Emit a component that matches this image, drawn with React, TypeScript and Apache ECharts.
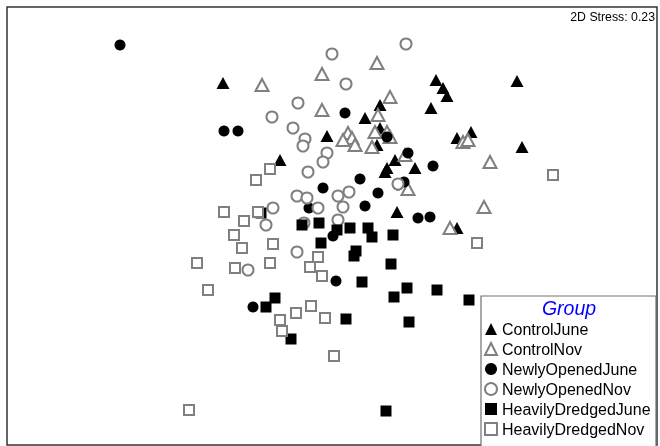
import React, { useEffect, useRef } from "react";
import * as echarts from "echarts";

// NMDS ordination coordinates (plot units; NMDS2 grows downward)
const controlJune: [number, number][] = [
  [223, 83], [436, 80], [443, 88], [447, 96], [517, 81], [431, 108], [380, 105],
  [365, 118], [327, 136], [280, 160], [457, 138], [471, 132], [522, 147], [377, 145],
  [380, 128], [387, 168], [395, 160], [415, 168], [385, 172], [397, 212], [457, 228],
];
const controlNov: [number, number][] = [
  [262, 85], [322, 74], [377, 63], [390, 97], [322, 110], [378, 115], [348, 133],
  [352, 138], [355, 145], [343, 140], [375, 132], [387, 132], [390, 137], [372, 147],
  [405, 155], [463, 142], [468, 140], [490, 162], [408, 189], [484, 207], [450, 228],
];
const newlyOpenedJune: [number, number][] = [
  [120, 45], [224, 131], [238, 131], [345, 113], [387, 137], [408, 153], [433, 166],
  [360, 179], [378, 193], [323, 188], [398, 185], [404, 182], [365, 206], [418, 218],
  [430, 217], [309, 208], [333, 236], [336, 281], [253, 307],
];
const newlyOpenedNov: [number, number][] = [
  [406, 44], [332, 54], [346, 84], [298, 103], [272, 117], [293, 128], [305, 139],
  [303, 146], [327, 153], [323, 162], [308, 172], [297, 196], [307, 198], [318, 208],
  [273, 208], [266, 225], [304, 223], [338, 196], [349, 192], [343, 207], [338, 220],
  [297, 252], [248, 270], [398, 184],
];
const heavilyDredgedJune: [number, number][] = [
  [261, 213], [302, 225], [319, 223], [321, 243], [337, 230], [350, 228], [368, 228],
  [372, 237], [393, 235], [356, 251], [354, 256], [391, 264], [362, 282], [407, 288],
  [394, 297], [437, 290], [469, 300], [275, 298], [266, 307], [346, 319], [409, 322],
  [291, 339], [386, 411],
];
const heavilyDredgedNov: [number, number][] = [
  [256, 180], [270, 169], [224, 212], [244, 221], [258, 212], [234, 235], [242, 248],
  [273, 244], [197, 263], [235, 268], [270, 263], [208, 290], [318, 257], [310, 267],
  [322, 276], [280, 320], [282, 331], [296, 313], [311, 306], [325, 318], [334, 356],
  [189, 410], [553, 175], [477, 243],
];

const groupNames = [
  "ControlJune",
  "ControlNov",
  "NewlyOpenedJune",
  "NewlyOpenedNov",
  "HeavilyDredgedJune",
  "HeavilyDredgedNov",
];
const stressLabel = "2D Stress: 0.23";
const legendTitle = "Group";

export default function App() {
  const ref = useRef<HTMLDivElement>(null);
  useEffect(() => {
    document.body.style.margin = "0";
    if (!ref.current) return;
    const chart = echarts.init(ref.current, undefined, { renderer: "svg" });
    const black = "#000000";
    const gray = "#808080";
    const filled = { color: black, borderWidth: 0, opacity: 1 };
    const open = { color: "#ffffff", borderColor: gray, borderWidth: 2, opacity: 1 };
    const datasets = [
      { data: controlJune, symbol: "triangle", size: [13, 12], style: filled },
      { data: controlNov, symbol: "triangle", size: [13, 12], style: open },
      { data: newlyOpenedJune, symbol: "circle", size: 11, style: filled },
      { data: newlyOpenedNov, symbol: "circle", size: 11, style: open },
      { data: heavilyDredgedJune, symbol: "rect", size: 11, style: filled },
      { data: heavilyDredgedNov, symbol: "rect", size: 10, style: open },
    ];
    chart.setOption({
      animation: false,
      grid: {
        left: 7,
        top: 7,
        right: 3,
        bottom: 25,
        show: true,
        borderColor: "#333333",
        borderWidth: 1.5,
        backgroundColor: "#ffffff",
      },
      xAxis: { type: "value", min: 7, max: 657, show: false },
      yAxis: { type: "value", min: 7, max: 445, inverse: true, show: false },
      legend: {
        orient: "vertical",
        left: 484,
        top: 321,
        itemWidth: 12,
        itemHeight: 12,
        itemGap: 4,
        itemStyle: { borderWidth: 0 },
        padding: 0,
        textStyle: { fontSize: 16, fontFamily: "Liberation Sans, Arial", color: "#000" },
        data: groupNames.map((n, i) => ({
          name: n,
          icon: datasets[i].symbol,
          itemStyle: datasets[i].style,
        })),
        selectedMode: false,
        z: 10,
      },
      graphic: [
        {
          type: "text",
          right: 5,
          top: 11,
          style: {
            text: stressLabel,
            font: "12.3px Liberation Sans, Arial",
            fill: "#000",
          },
        },
        {
          type: "rect",
          shape: { x: 481, y: 296, width: 175, height: 160 },
          style: { fill: "#ffffff", stroke: "#707070", lineWidth: 1.2 },
          z: 5,
        },
        {
          type: "text",
          x: 569,
          y: 298,
          style: {
            text: legendTitle,
            font: "italic 19.5px Liberation Sans, Arial",
            fill: "#0000ff",
            align: "center",
          },
          z: 6,
        },
      ],
      series: datasets.map((d, i) => ({
        name: groupNames[i],
        type: "scatter",
        data: d.data,
        symbol: d.symbol,
        symbolSize: d.size,
        itemStyle: d.style,
        emphasis: { disabled: true },
      })),
    });
    return () => chart.dispose();
  }, []);
  return (
    <div
      ref={ref}
      style={{ position: "fixed", left: 0, top: 0, width: 660, height: 470 }}
    />
  );
}
